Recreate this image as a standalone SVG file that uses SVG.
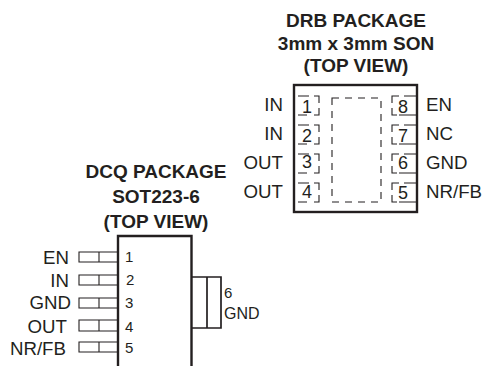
<svg xmlns="http://www.w3.org/2000/svg" width="486" height="366" viewBox="0 0 486 366">
<style>
text{font-family:"Liberation Sans",Arial,sans-serif;fill:#231f20}
.t{font-size:19px;font-weight:bold;text-anchor:middle}
.l{font-size:18.7px}
.e{text-anchor:end}
.n{font-size:18px;text-anchor:middle}
.s{font-size:15px}
.g{font-size:16px}
.b{fill:none;stroke:#231f20;stroke-width:2.4}
.d{fill:none;stroke:#231f20;stroke-width:1.1;stroke-dasharray:7 6}
.p{fill:none;stroke:#231f20;stroke-width:1.1}
.q{fill:none;stroke:#231f20;stroke-width:1.7}
</style>
<defs>
<path id="lp" class="p" d="M298 96H309M314 96H319V103M319 108V115H314M307 115H298"/>
<path id="rp" class="p" d="M416 96H404M399 96H392V103M392 108V115H397M399 115H416"/>
</defs>
<g id="drb-title">
<text class="t" x="356" y="27">DRB PACKAGE</text>
<text class="t" x="356" y="50">3mm x 3mm SON</text>
<text class="t" x="356" y="72">(TOP VIEW)</text>
</g>
<g id="drb-package">
<rect class="b" x="294" y="85" width="123" height="127"/>
<rect class="d" x="332" y="98" width="49" height="104"/>
</g>
<g id="drb-pads">
<use href="#lp"/>
<use href="#lp" y="29"/>
<use href="#lp" y="58"/>
<use href="#lp" y="87"/>
<use href="#rp"/>
<use href="#rp" y="29"/>
<use href="#rp" y="58"/>
<use href="#rp" y="87"/>
<text class="n" x="307" y="113">1</text>
<text class="n" x="307" y="142">2</text>
<text class="n" x="307" y="168">3</text>
<text class="n" x="307" y="198">4</text>
<text class="n" x="403" y="113">8</text>
<text class="n" x="403" y="142">7</text>
<text class="n" x="403" y="169">6</text>
<text class="n" x="403" y="199">5</text>
</g>
<g id="drb-labels">
<text class="l e" x="283" y="111">IN</text>
<text class="l e" x="283" y="140">IN</text>
<text class="l e" x="283" y="169">OUT</text>
<text class="l e" x="283" y="198">OUT</text>
<text class="l" x="426" y="111">EN</text>
<text class="l" x="426" y="140">NC</text>
<text class="l" x="426" y="169">GND</text>
<text class="l" x="426" y="198">NR/FB</text>
</g>
<g id="dcq-title">
<text class="t" x="156" y="178">DCQ PACKAGE</text>
<text class="t" x="156" y="203">SOT223-6</text>
<text class="t" x="156" y="228">(TOP VIEW)</text>
</g>
<g id="dcq-package">
<path class="b" d="M118 366V236H191.500V366"/>
<path class="q" d="M192 277H221V328H192M207 277V328"/>
</g>
<g id="dcq-pins">
<path class="p" d="M117 252H79V262H117M99 252V262"/>
<path class="p" d="M117 275H79V285H117M99 275V285"/>
<path class="p" d="M117 298H79V308H117M99 298V308"/>
<path class="p" d="M117 320H79V331H117M99 320V331"/>
<path class="p" d="M117 342H79V352H117M99 342V352"/>
<text class="s" x="125" y="262">1</text>
<text class="s" x="126" y="285">2</text>
<text class="s" x="125" y="308">3</text>
<text class="s" x="125" y="332">4</text>
<text class="s" x="125" y="353">5</text>
</g>
<g id="dcq-labels">
<text class="l e" x="69" y="264">EN</text>
<text class="l e" x="69" y="287">IN</text>
<text class="l e" x="71" y="309">GND</text>
<text class="l e" x="67" y="333">OUT</text>
<text class="l e" x="66" y="355">NR/FB</text>
<text class="s" x="224" y="298">6</text>
<text class="g" x="224" y="319">GND</text>
</g>
</svg>
